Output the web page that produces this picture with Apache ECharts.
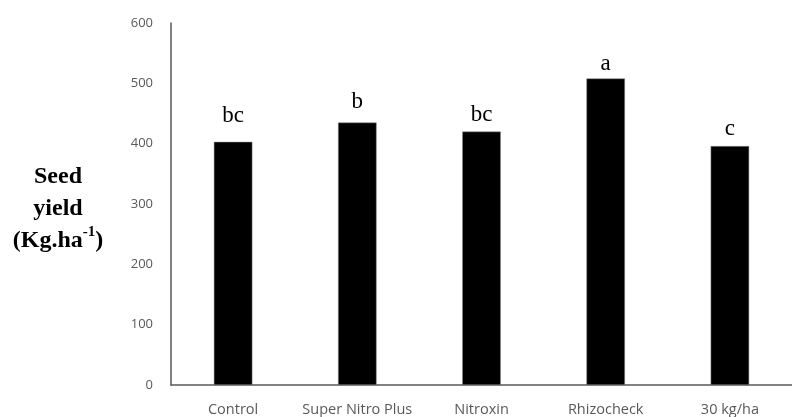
<!DOCTYPE html>
<html>
<head>
<meta charset="utf-8">
<script src="https://cdn.jsdelivr.net/npm/echarts@6/dist/echarts.min.js"></script>
<style>
html,body{margin:0;padding:0;background:#fff;}
#chart{width:792px;height:417px;}
</style>
</head>
<body>
<div id="chart"></div>
<script>
const categories = ['Control', 'Super Nitro Plus', 'Nitroxin', 'Rhizocheck', '30 kg/ha'];
const seedYield = [403, 435, 420, 508, 396];
const letters = ['bc', 'b', 'bc', 'a', 'c'];
const yTicks = [0, 100, 200, 300, 400, 500, 600];

// gap between each bar top and its significance letter (style only)
const letterGaps = [14, 9, 5, 3, 6];

const chart = echarts.init(document.getElementById('chart'), null, {renderer: 'canvas'});
chart.setOption({
  animation: false,
  backgroundColor: '#fff',
  grid: {left: 171, top: 23, width: 638, height: 362, containLabel: false},
  xAxis: {
    type: 'category',
    data: categories,
    axisLine: {show: true, lineStyle: {color: '#595959', width: 1.5}},
    axisTick: {show: false},
    axisLabel: {color: '#595959', fontFamily: 'Open Sans', fontSize: 14.5, margin: 17, interval: 0}
  },
  yAxis: {
    type: 'value',
    min: yTicks[0],
    max: yTicks[yTicks.length - 1],
    interval: 100,
    axisLine: {show: true, lineStyle: {color: '#595959', width: 1.5}},
    axisTick: {show: false},
    splitLine: {show: false},
    axisLabel: {color: '#595959', fontFamily: 'Open Sans', fontSize: 13, margin: 18}
  },
  series: [{
    type: 'bar',
    data: seedYield.map((v, i) => ({value: v, label: {distance: letterGaps[i]}})),
    barWidth: '31%',
    itemStyle: {color: '#000', borderColor: '#8a8a8a', borderWidth: 0.5},
    label: {
      show: true,
      position: 'top',
      formatter: p => letters[p.dataIndex],
      fontFamily: 'Liberation Serif',
      fontSize: 23,
      color: '#000'
    }
  }],
  graphic: [{
    type: 'text',
    x: 58,
    y: 161,
    style: {
      text: '{b|Seed}\n{b|yield}\n{b|(Kg.ha}{s|-1}{b|)}',
      textAlign: 'center',
      rich: {
        b: {fontFamily: 'Liberation Serif', fontWeight: 'bold', fontSize: 24, lineHeight: 32, color: '#000'},
        s: {fontFamily: 'Liberation Serif', fontWeight: 'bold', fontSize: 15, verticalAlign: 'top', lineHeight: 22, color: '#000'}
      }
    }
  }]
});
</script>
</body>
</html>
